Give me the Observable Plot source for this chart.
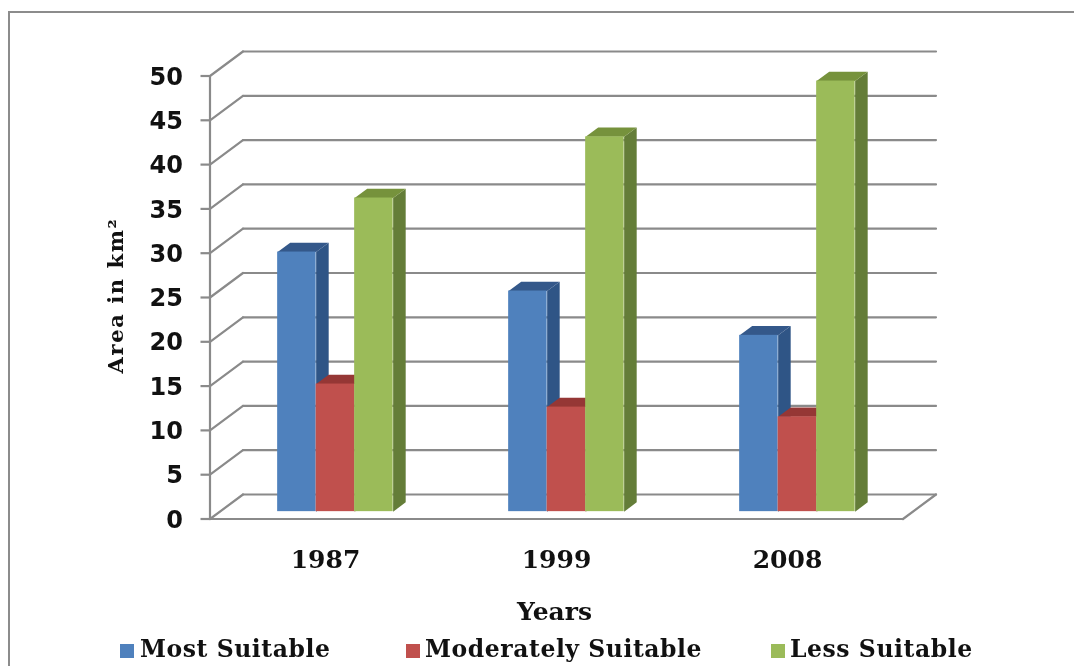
<!DOCTYPE html>
<html>
<head>
<meta charset="utf-8">
<script src="https://cdn.jsdelivr.net/npm/d3@7"></script>
<script src="https://cdn.jsdelivr.net/npm/@observablehq/plot@0.6"></script>
<style>
  html, body { margin: 0; padding: 0; background: #fff; width: 1074px; height: 666px; overflow: hidden; }
  #page { position: relative; width: 1074px; height: 666px; filter: blur(0.45px); }
  #frame { position: absolute; left: 8px; top: 11px; right: 0; bottom: 0; border-left: 2.5px solid #8c8c8c; border-top: 2px solid #8c8c8c; }
  #chart { position: absolute; left: 0; top: 0; }
  #legend { position: absolute; left: 0; top: 632px; width: 1074px; height: 34px; font: bold 23.5px "DejaVu Serif", serif; color: #111; }
  .item { position: absolute; top: 2px; white-space: nowrap; line-height: 30px; letter-spacing: 0.55px; }
  .swatch { position: absolute; top: 12px; width: 14px; height: 14px; }
  .ytitle { letter-spacing: 1.6px; }
</style>
</head>
<body>
<div id="page">
  <div id="frame"></div>
  <div id="chart"></div>
  <div id="legend"></div>
</div>
<script>
const years = ["1987", "1999", "2008"];
const seriesNames = ["Most Suitable", "Moderately Suitable", "Less Suitable"];
const mostSuitable = [29.3, 24.9, 19.9];
const moderatelySuitable = [14.4, 11.8, 10.7];
const lessSuitable = [35.4, 42.3, 48.6];
const yTicks = [0, 5, 10, 15, 20, 25, 30, 35, 40, 45, 50];
const frontColors = ["#4f81bd", "#c0504d", "#9bbb59"];
const topColors = ["#34588a", "#953735", "#76923c"];
const sideColors = ["#2f5586", "#8c3533", "#647d38"];
const gridColor = "#8a8a8a";
const serif = '"DejaVu Serif", serif';
const sans = '"DejaVu Sans", sans-serif';

const W = 1074, H = 632;
const marginLeft = 209.5, marginRight = W - 902.5, marginTop = 75.5, marginBottom = H - 518.5;

// Depth of the 3D box expressed in data units
const depthX = 33 / ((W - marginLeft - marginRight) / 3);
const depthY = 24.5 / ((H - marginTop - marginBottom) / 50);
const proj = (x, y, d) => ({x: x + d * depthX, y: y + d * depthY});

const seriesValues = [mostSuitable, moderatelySuitable, lessSuitable];
const barFront = 0.3, barBack = 0.68, barW = 1 / 6, groupGap = 0.25;

const segments = [];
const seg = (id, ...pts) => pts.forEach(p => segments.push({id, ...p}));
yTicks.forEach(v => {
  seg("back" + v, proj(0, v, 1), proj(3, v, 1));
  seg("wall" + v, proj(0, v, 0), proj(0, v, 1));
});
seg("axis", proj(0, 0, 0), proj(0, 50, 0));
seg("floorFront", proj(0, 0, 0), proj(3, 0, 0));
seg("floorRight", proj(3, 0, 0), proj(3, 0, 1));

const barMarks = [];
years.forEach((year, i) => {
  seriesNames.forEach((name, s) => {
    const v = seriesValues[s][i];
    const x0 = i + groupGap + s * barW, x1 = x0 + barW;
    const side = [proj(x1, 0, barFront), proj(x1, 0, barBack), proj(x1, v, barBack), proj(x1, v, barFront), proj(x1, 0, barFront)];
    const top = [proj(x0, v, barFront), proj(x0, v, barBack), proj(x1, v, barBack), proj(x1, v, barFront), proj(x0, v, barFront)];
    const a = proj(x0, 0, barFront), b = proj(x1, v, barFront);
    barMarks.push(
      Plot.line(side, {x: "x", y: "y", fill: sideColors[s], stroke: "none", curve: "linear"}),
      Plot.line(top, {x: "x", y: "y", fill: topColors[s], stroke: "none", curve: "linear"}),
      Plot.rect([{x1: a.x, x2: b.x, y1: a.y, y2: b.y}], {x1: "x1", x2: "x2", y1: "y1", y2: "y2", fill: frontColors[s], inset: 0})
    );
  });
});

const chart = Plot.plot({
  width: W, height: H,
  marginLeft, marginRight, marginTop, marginBottom,
  style: {background: "transparent", overflow: "visible"},
  x: {domain: [0, 3], axis: null},
  y: {domain: [0, 50], axis: null},
  marks: [
    Plot.line(segments, {x: "x", y: "y", z: "id", stroke: gridColor, strokeWidth: 2.2, curve: "linear"}),
    Plot.axisY({ticks: yTicks, tickSize: 9, stroke: gridColor, strokeWidth: 2.2, label: null, fill: "none"}),
    Plot.axisY({ticks: yTicks, tickSize: 0, tickPadding: 27, dy: 1, label: null,
      fill: "#111", fontFamily: sans, fontWeight: "bold", fontSize: 24}),
    Plot.axisX({ticks: [0.5, 1.5, 2.5], tickFormat: d => years[Math.floor(d)], tickSize: 0, tickPadding: 31, label: null,
      fill: "#111", fontFamily: serif, fontWeight: "bold", fontSize: 25}),
    ...barMarks,
    Plot.text(["Area in km²"], {text: d => d, frameAnchor: "left", dx: -94, dy: -2, rotate: -90, textAnchor: "middle", fill: "#111",
      fontFamily: serif, fontWeight: "bold", fontSize: 21, className: "ytitle"}),
    Plot.text(["Years"], {text: d => d, frameAnchor: "bottom", dy: 101, dx: -2, fill: "#111",
      fontFamily: serif, fontWeight: "bold", fontSize: 25})
  ]
});
document.getElementById("chart").appendChild(chart);

const legendSwatchX = [120, 406, 771];
const legendTextX = [140, 425, 790];
const legend = document.getElementById("legend");
seriesNames.forEach((name, s) => {
  const sw = document.createElement("span");
  sw.className = "swatch";
  sw.style.left = legendSwatchX[s] + "px";
  sw.style.background = frontColors[s];
  legend.appendChild(sw);
  const t = document.createElement("span");
  t.className = "item";
  t.style.left = legendTextX[s] + "px";
  t.textContent = name;
  legend.appendChild(t);
});
</script>
</body>
</html>
